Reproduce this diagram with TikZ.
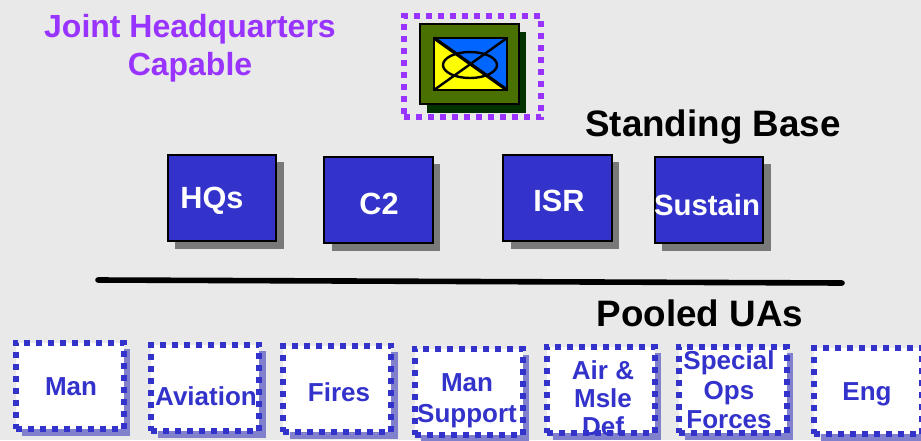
\documentclass[tikz,border=0pt]{standalone}
\usepackage{fontspec}
\setmainfont{Liberation Sans}
\usetikzlibrary{shadows}
\definecolor{pagegray}{HTML}{E9E9E9}
\definecolor{unitblue}{HTML}{3333CC}
\definecolor{poolshadow}{HTML}{8080CC}
\definecolor{jointpurple}{HTML}{9933FF}
\definecolor{flaggreen}{HTML}{4A7000}
\definecolor{flagshadow}{HTML}{003300}
\definecolor{flagblue}{HTML}{0066FF}
\definecolor{flagyellow}{HTML}{FFFF00}
\tikzset{
  basebox/.style={draw=black, line width=1.5pt, fill=unitblue, minimum width=81.5pt, minimum height=65pt,
    inner sep=0pt, general shadow={shadow xshift=5.5pt, shadow yshift=-5.5pt, fill=gray!95!black}},
  basetext/.style={text=white, font=\bfseries\fontsize{23}{27}\selectfont, inner sep=0pt},
  poolbox/.style={draw=unitblue, line width=4.5pt, dash pattern=on 4.5pt off 4.5pt, fill=white,
    minimum width=81pt, minimum height=65pt, inner sep=0pt,
    general shadow={shadow xshift=5pt, shadow yshift=-5pt, fill=poolshadow}},
  pooltext/.style={text=unitblue, align=center, inner sep=0pt, font=\bfseries\fontsize{19.5}{20.8}\selectfont},
  heading/.style={text=black, inner sep=0pt, font=\bfseries\fontsize{27.6}{32}\selectfont}
}
\begin{document}
\begin{tikzpicture}[x=0.75pt, y=-0.75pt]
  \useasboundingbox (0,0) rectangle (921,440);
  \fill[pagegray] (0,0) rectangle (921,440);
  % joint headquarters
  \node[text=jointpurple, align=center, inner sep=0pt, font=\bfseries\fontsize{24}{28.5}\selectfont] (joint) at (190,48) {Joint Headquarters\\Capable};
  \node[draw=jointpurple, line width=4.5pt, dash pattern=on 4.5pt off 4.5pt, minimum width=103pt, minimum height=76pt, inner sep=0pt] (jointframe) at (472.5,66.5) {};
  \fill[flagshadow] (427,32) rectangle (526,113);
  \draw[black, line width=1.5pt, fill=flaggreen] (420,24) rectangle (519,104);
  \coordinate (FA) at (434,38); \coordinate (FB) at (507,38); \coordinate (FC) at (507,90); \coordinate (FD) at (434,90);
  \fill[flagyellow] (FA) rectangle (FC);
  \fill[flagblue] (FA) -- (FB) -- (FC) -- (470.5,64) -- cycle;
  \draw[black, line width=2pt] (FA) -- (FB) -- (FC) -- (FD) -- cycle;
  \draw[black, line width=2.5pt] (FA) -- (FC);
  \draw[black, line width=1.8pt] (FB) -- (FD);
  \draw[black, line width=1.8pt] (470,65) ellipse [x radius=27, y radius=13];
  % standing base
  \node[heading] (standing) at (713,127) {Standing Base};
  \node[basebox] (hqsbox) at (222,198) {};
  \node[basebox] (ctwobox) at (378.5,200) {};
  \node[basebox] (isrbox) at (557.5,198) {};
  \node[basebox] (sustainbox) at (709,200) {};
  \node[basetext] (hqs) at (212,201) {HQs};
  \node[basetext] (ctwo) at (379,204) {C2};
  \node[basetext] (isr) at (559,201) {ISR};
  \node[basetext, font=\bfseries\fontsize{22}{24}\selectfont] (sustain) at (707,205) {Sustain};
  \draw[black, line width=4.2pt, line cap=round] (98,280) -- (842,283);
  % pooled units
  \node[heading] (pooled) at (700,313) {Pooled UAs};
  \node[poolbox] (manbox) at (69.5,386) {};
  \node[poolbox] (aviationbox) at (205,388) {};
  \node[poolbox] (firesbox) at (337,389) {};
  \node[poolbox] (supportbox) at (468.5,392) {};
  \node[poolbox] (airbox) at (600.5,390) {};
  \node[poolbox] (specialbox) at (732.5,390) {};
  \node[poolbox] (engbox) at (868,391) {};
  \node[pooltext] (man) at (71,387) {Man};
  \node[pooltext] (aviation) at (206,396) {Aviation};
  \node[pooltext] (fires) at (339,392) {Fires};
  \node[pooltext, font=\bfseries\fontsize{19.5}{23.5}\selectfont] (support) at (467,401) {Man\\Support};
  \node[pooltext] (air) at (603,398) {Air \&\\Msle\\Def};
  \node[pooltext, font=\bfseries\fontsize{19.5}{22}\selectfont] (special) at (729,390) {Special\\Ops\\Forces};
  \node[pooltext] (eng) at (867,394) {Eng};
\end{tikzpicture}
\end{document}
